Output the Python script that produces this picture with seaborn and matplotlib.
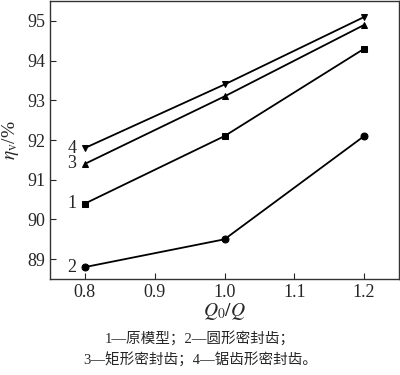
import numpy as np
import pandas as pd
import seaborn as sns
import matplotlib.pyplot as plt

flow_ratio = [0.8, 1.0, 1.2]
eff_original = [90.4, 92.1, 94.3]    # 1 - 原模型
eff_round = [88.8, 89.5, 92.1]       # 2 - 圆形密封齿
eff_rect = [91.4, 93.1, 94.9]        # 3 - 矩形密封齿
eff_saw = [91.8, 93.4, 95.1]         # 4 - 锯齿形密封齿
curve_ids = ['1', '2', '3', '4']
caption = ['1—原模型；2—圆形密封齿；', '3—矩形密封齿；4—锯齿形密封齿。']

sns.set_style('ticks')
plt.rcParams['font.family'] = ['Liberation Serif', 'Noto Sans CJK SC']
plt.rcParams['mathtext.fontset'] = 'stix'

df = pd.DataFrame({
    'Q': flow_ratio * 4,
    'eta': eff_original + eff_round + eff_rect + eff_saw,
    'curve': [c for c in curve_ids for _ in flow_ratio],
})

fig = plt.figure(figsize=(4, 3.75), dpi=100)
ax = fig.add_axes([0.125, 0.256, 0.8725, 0.741])

markers = {'1': 's', '2': 'o', '3': '^', '4': 'v'}
sns.lineplot(data=df, x='Q', y='eta', style='curve', markers=markers,
             dashes=False, color='black', linewidth=1.3, markersize=5,
             markeredgecolor='black', legend=False, ax=ax)

# curve numbers to the left of the first point
for cid in curve_ids:
    y0 = df[(df.curve == cid) & (df.Q == flow_ratio[0])].eta.iloc[0]
    ax.text(flow_ratio[0] - 0.012, y0, cid, ha='right', va='center', fontsize=13)

ax.set_xlim(0.75, 1.25)
ax.set_ylim(88.5, 95.5)
ax.set_xticks([0.8, 0.9, 1.0, 1.1, 1.2])
ax.set_yticks([89, 90, 91, 92, 93, 94, 95])
ax.tick_params(direction='in', length=4, labelsize=13, width=0.8)
for s in ax.spines.values():
    s.set_linewidth(1.0)
    s.set_color('#333333')
ax.set_xlabel('$Q_0/Q$', fontsize=14, labelpad=0)
ax.set_ylabel(r'$\eta_{\mathrm{v}}$/%', fontsize=14, labelpad=4)

fig.text(0.5, (375 - 338) / 375, caption[0], ha='center', va='center', fontsize=10.5)
fig.text(0.5, (375 - 360) / 375, caption[1], ha='center', va='center', fontsize=10.5)

fig.savefig('out.png', dpi=100)
